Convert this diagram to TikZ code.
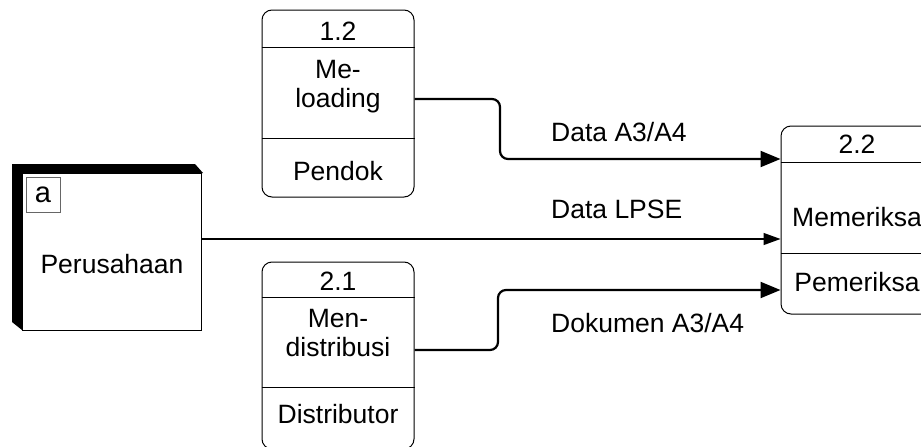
\documentclass[tikz,border=0pt]{standalone}
\usepackage{fontspec}
\setmainfont{Liberation Sans}
\usetikzlibrary{arrows.meta}
\newcommand{\dfdfont}{\fontsize{26.5}{29}\selectfont}

\begin{document}
\begin{tikzpicture}[x=1pt,y=-1pt]
    \tikzstyle{every node}+=[inner sep=0pt, font=\dfdfont]
    \tikzstyle{proc}=[draw, line width=1pt, rounded corners=10pt, minimum width=152pt]
    \tikzstyle{flow}=[line width=2.2pt, rounded corners=8pt, -{Triangle[length=20pt,width=16pt]}]
    \tikzstyle{thinflow}=[line width=1.3pt, -{Triangle[length=17pt,width=12pt]}]
    \useasboundingbox (0,0) rectangle (921,447);
    \clip (0,0) rectangle (921,447);
    % external entity
    \fill [black] (12,164) -- (195,164) -- (203,173) -- (22,173) -- (22,330) -- (12,322) -- cycle;
    \node [draw, line width=1pt, fill=white, minimum width=179pt, minimum height=157pt] (ent) at (111.5,251.5) {};
    \node [draw=black!60, line width=1pt, minimum width=34pt, minimum height=35pt] (enta) at (43,194.5) {\fontsize{29}{30}\selectfont a};
    \node (entname) at (112,264) {Perusahaan};
    % processes
    \node [proc, minimum height=187pt] (p12) at (338,103.5) {};
    \draw [line width=1pt] ([yshift=-38pt]p12.north west) -- ([yshift=-38pt]p12.north east);
    \draw [line width=1pt] ([yshift=-129pt]p12.north west) -- ([yshift=-129pt]p12.north east);
    \node (p12id) at (338,31) {1.2};
    \node [align=center] (p12name) at (338,87) {Me-\\loading};
    \node (p12who) at (338,171) {Pendok};
    \node [proc, minimum height=187pt] (p21) at (338,355.5) {};
    \draw [line width=1pt] ([yshift=-36pt]p21.north west) -- ([yshift=-36pt]p21.north east);
    \draw [line width=1pt] ([yshift=-126pt]p21.north west) -- ([yshift=-126pt]p21.north east);
    \node (p21id) at (338,281) {2.1};
    \node [align=center] (p21name) at (338,333) {Men-\\distribusi};
    \node (p21who) at (338,414) {Distributor};
    \node [proc, minimum height=188pt] (p22) at (857,220) {};
    \draw [line width=1pt] ([yshift=-37pt]p22.north west) -- ([yshift=-37pt]p22.north east);
    \draw [line width=1pt] ([yshift=-128pt]p22.north west) -- ([yshift=-128pt]p22.north east);
    \node (p22id) at (857,144) {2.2};
    \node (p22name) at (857,217) {Memeriksa};
    \node (p22who) at (857,282) {Pemeriksa};
    % data flows
    \draw [flow] ([yshift=4.5pt]p12.east) -| (500,129) |- ([yshift=61pt]p22.west);
    \draw [thinflow] ([yshift=12.5pt]ent.east) -- ([yshift=-19pt]p22.west);
    \draw [flow] ([yshift=5.5pt]p21.east) -| (498,320) |- ([yshift=-70pt]p22.west);
    \node [anchor=west] (lblA3) at (551,132) {Data A3/A4};
    \node [anchor=west] (lblLpse) at (551,209) {Data LPSE};
    \node [anchor=west] (lblDok) at (551,323) {Dokumen A3/A4};
\end{tikzpicture}
\end{document}
